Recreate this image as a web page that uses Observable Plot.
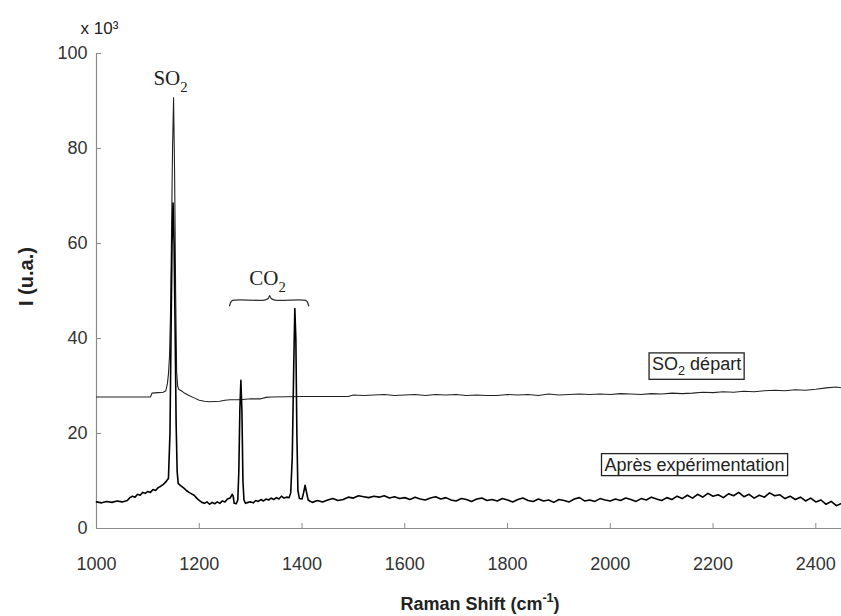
<!DOCTYPE html>
<html><head><meta charset="utf-8">
<script src="https://cdn.jsdelivr.net/npm/d3@7"></script>
<script src="https://cdn.jsdelivr.net/npm/@observablehq/plot@0.6"></script>
<style>body{margin:0;background:#fff} svg{display:block}</style>
</head><body><div id="chart"></div>
<script>
// ---- data ----
const xTicks = [1000, 1200, 1400, 1600, 1800, 2000, 2200, 2400];
const yTicks = [0, 20, 40, 60, 80, 100];

// "SO2 départ" spectrum
const shiftDepart = [1000,1105,1108,1120,1130,1135,1138,1140,1142,1144,
  1146,1148,1150,1152,1154,1156,1158,1160,1165,1170,
  1180,1190,1200,1210,1220,1240,1250,1260,1280,1300,
  1320,1330,1340,1400,1450,1490,
  1500,1520,1540,1560,1580,1600,1620,1640,1660,1680,
  1700,1720,1740,1760,1780,1800,1820,1840,1860,1880,
  1900,1920,1940,1960,1980,2000,2020,2040,2060,2080,
  2100,2120,2140,2160,2180,2200,2220,2240,2260,2280,
  2300,2320,2340,2360,2380,2400,2420,2440,2450];
const intensityDepart = [27.7,27.7,28.5,28.6,28.7,29.0,30.5,32.5,36,45,
  62,80,90.7,75,50,33,30,29.3,29.0,28.6,
  28.0,27.5,27.0,26.8,26.7,26.8,27.0,27.1,27.1,27.3,
  27.3,27.6,27.7,27.8,27.8,27.8,
  28.1,28.0,28.1,28.2,28.0,28.1,28.2,28.0,28.2,28.1,
  28.2,28.0,28.1,28.0,28.0,28.2,28.1,28.2,28.0,28.3,
  28.1,28.2,28.3,28.2,28.3,28.2,28.4,28.3,28.2,28.4,
  28.3,28.5,28.4,28.5,28.7,28.6,28.8,28.7,28.9,28.8,
  29.0,29.1,29.0,29.2,29.1,29.3,29.6,29.8,29.6];

// "Après expérimentation" spectrum
const shiftApres = [1000,1010,1020,1030,1040,1050,1060,
  1065,1070,1075,1080,1085,1090,1095,1100,1105,1110,1115,1120,1125,1130,1135,
  1138,1140,1143,1145,1147,1149,1151,1153,1155,1157,1159,
  1162,1165,1170,1175,1180,1185,1190,1195,1200,
  1205,1210,1215,1220,1225,1230,1235,1240,1245,1250,1255,1260,
  1264,1266,1268,1272,1275,1277,1279,1281,1283,1285,1287,1290,
  1295,1300,1305,1310,1315,1320,1325,1330,1335,1340,1345,1350,1355,1360,1365,1370,1375,
  1378,1381,1384,1386,1388,1390,1392,1395,1400,
  1403,1406,1409,1412,1415,
  1420,1430,1440,1450,1460,1470,1480,1490,1500,1510,
  1520,1530,1540,1550,1560,1570,1580,1590,1600,1610,
  1620,1630,1640,1650,1660,1670,1680,1690,1700,1710,
  1720,1730,1740,1750,1760,1770,1780,1790,1800,1810,
  1820,1830,1840,1850,1860,1870,1880,1890,1900,1910,
  1920,1930,1940,1950,1960,1970,1980,1990,2000,2010,
  2020,2030,2040,2050,2060,2070,2080,2090,2100,2110,
  2120,2130,2140,2150,2160,2170,2180,2190,2200,2210,
  2220,2230,2240,2250,2260,2270,2280,2290,2300,2310,
  2320,2330,2340,2350,2360,2370,2380,2390,2400,2410,
  2420,2430,2440,2450];
const intensityApres = [5.6,5.4,5.7,5.5,5.8,5.6,5.9,
  6.5,6.8,6.6,7.2,7.0,7.6,7.4,7.8,7.6,8.2,8.0,8.6,8.9,9.3,9.8,
  10.3,10.5,20,40,60,68.5,60,42,22,12,9.5,
  9.2,8.9,8.5,8.0,7.6,7.3,7.0,6.4,5.9,
  5.5,5.3,5.6,5.1,5.5,5.2,5.6,5.3,5.8,5.6,6.2,6.4,
  7.2,6.8,5.3,5.2,6.0,12,25,31.2,25,10,6,5.3,
  5.5,5.6,5.4,5.9,5.7,6.1,5.8,6.2,6.0,6.4,6.1,6.5,6.2,6.8,6.4,6.6,6.5,
  7.5,15,35,46.3,40,20,8,6.3,6.2,
  7.5,9.1,7.5,6.0,5.8,
  5.5,5.9,5.6,6.0,6.3,5.9,6.1,6.6,6.4,6.9,
  6.7,6.5,6.8,6.6,6.9,6.4,6.7,6.3,6.5,6.1,
  6.6,6.2,6.0,6.4,6.7,6.2,6.5,6.0,5.8,6.3,
  6.1,5.7,6.2,6.4,5.9,6.1,5.8,6.3,6.0,5.6,
  6.1,6.4,5.9,5.7,6.2,5.8,6.0,5.5,6.1,5.9,
  5.6,6.2,6.5,5.8,6.0,5.7,6.3,6.0,5.8,6.2,
  5.9,6.4,6.1,5.7,6.3,6.0,6.6,6.2,5.9,6.5,
  6.1,6.8,6.3,7.0,6.4,7.2,6.6,7.4,6.8,7.1,
  6.5,7.3,6.9,7.6,6.7,7.2,6.4,7.0,6.6,7.5,
  6.9,7.1,6.3,6.8,6.1,6.6,5.8,6.4,5.6,6.0,
  5.1,5.7,4.8,5.3];

// annotations
const peakLabels = ["SO₂", "CO₂"];
const peakLabelX = [1144, 1333];
const peakLabelY = [93.3, 51.2];
const braceStart = 1259, braceTip = 1337, braceEnd = 1413, braceLevel = 48.1;

const seriesLabels = ["SO₂ départ", "Après expérimentation"];
const seriesLabelX = [2168, 2164];
const seriesLabelY = [34.6, 13.4];

// ---- tables ----
const depart = shiftDepart.map((x, i) => ({x, y: intensityDepart[i]}));
const apres = shiftApres.map((x, i) => ({x, y: intensityApres[i]}));
const peaks = peakLabels.map((t, i) => ({t, x: peakLabelX[i], y: peakLabelY[i]}));
const series = seriesLabels.map((t, i) => ({t, x: seriesLabelX[i], y: seriesLabelY[i]}));
const brace = [
  {x: braceStart, y: braceLevel - 1.2},
  {x: braceStart + 4, y: braceLevel - 0.2},
  {x: braceStart + 12, y: braceLevel},
  {x: braceTip - 10, y: braceLevel},
  {x: braceTip - 3, y: braceLevel + 0.3},
  {x: braceTip, y: braceLevel + 0.9},
  {x: braceTip + 3, y: braceLevel + 0.3},
  {x: braceTip + 10, y: braceLevel},
  {x: braceEnd - 12, y: braceLevel},
  {x: braceEnd - 4, y: braceLevel - 0.2},
  {x: braceEnd, y: braceLevel - 1.2}
];

const axisGray = "#8a8a8a";
const textCol = "#222";

const chart = Plot.plot({
  width: 841, height: 616,
  marginLeft: 96, marginRight: 0, marginTop: 53, marginBottom: 88,
  style: {fontFamily: "'Liberation Sans', Arial, sans-serif", fontSize: "18px", color: textCol, background: "white"},
  x: {domain: [1000, 2450], label: null},
  y: {domain: [0, 100], label: null},
  marks: [
    Plot.ruleY([0], {stroke: axisGray, strokeWidth: 1.2}),
    Plot.ruleX([1000], {stroke: axisGray, strokeWidth: 1.2}),
    Plot.axisX({ticks: xTicks, tickFormat: d => String(d), tickSize: -5, tickPadding: 34, stroke: axisGray, fill: "#333", label: null, fontSize: 18}),
    Plot.axisY({ticks: yTicks, tickFormat: d => String(d), tickSize: -5, tickPadding: 14, stroke: axisGray, fill: "#333", label: null, fontSize: 18}),
    Plot.line(depart, {x: "x", y: "y", stroke: "#222", strokeWidth: 1.1}),
    Plot.line(apres, {x: "x", y: "y", stroke: "#000", strokeWidth: 1.6}),
    Plot.line(brace, {x: "x", y: "y", curve: "catmull-rom", stroke: "#333", strokeWidth: 1.3}),
    Plot.text(peaks, {x: "x", y: "y", text: "t", lineAnchor: "bottom", fontFamily: "'Liberation Serif', 'Times New Roman', serif", fontSize: 21, fill: textCol}),
    Plot.text(series, {x: "x", y: "y", text: "t", lineAnchor: "middle", fontSize: 18, fill: textCol}),
    Plot.text(["x 10³"], {frameAnchor: "top-left", dx: -16, dy: -20, textAnchor: "start", lineAnchor: "bottom", fontSize: 17, fill: textCol}),
    Plot.text(["Raman Shift (cm⁻¹)"], {frameAnchor: "bottom", dx: 11, dy: 81, lineAnchor: "bottom", fontWeight: "bold", fontSize: 18, fill: textCol}),
    Plot.text(["I (u.a.)"], {frameAnchor: "left", dx: -70, dy: 15, rotate: -90, fontWeight: "bold", fontSize: 20, fill: textCol})
  ]
});
document.getElementById("chart").append(chart);

// ---- sub/superscripts as tspans ----
const ns = "http://www.w3.org/2000/svg";
const scriptMap = {"₂": ["sub", "2"], "⁻": ["sup", "-"], "¹": ["sup", "1"]};
function richify(el) {
  const s = el.textContent;
  if (![...s].some(c => scriptMap[c])) return;
  const fs = parseFloat(getComputedStyle(el).fontSize) || 18;
  const runs = [];
  for (const c of s) {
    const m = scriptMap[c];
    const type = m ? m[0] : "normal";
    const ch = m ? m[1] : c;
    if (runs.length && runs[runs.length - 1].type === type) runs[runs.length - 1].text += ch;
    else runs.push({type, text: ch});
  }
  el.textContent = "";
  let offset = 0;
  for (const r of runs) {
    const ts = document.createElementNS(ns, "tspan");
    const target = r.type === "sub" ? fs * 0.3 : r.type === "sup" ? -fs * 0.4 : 0;
    const dy = target - offset;
    if (dy) ts.setAttribute("dy", dy);
    offset = target;
    if (r.type !== "normal") ts.setAttribute("font-size", fs * 0.7);
    ts.textContent = r.text;
    el.appendChild(ts);
  }
}
chart.querySelectorAll("text").forEach(t => {
  const spans = t.querySelectorAll("tspan");
  if (spans.length) spans.forEach(richify); else richify(t);
});

// ---- boxes around the series labels ----
const boxedTexts = new Set(seriesLabels.map(s => s.replace("₂", "2")));
chart.querySelectorAll("text").forEach(t => {
  if (!boxedTexts.has(t.textContent)) return;
  const bb = t.getBBox();
  const r = document.createElementNS(ns, "rect");
  r.setAttribute("x", bb.x - 3);
  r.setAttribute("y", bb.y - 1);
  r.setAttribute("width", bb.width + 6);
  r.setAttribute("height", bb.height + 2);
  r.setAttribute("fill", "white");
  r.setAttribute("stroke", "#222");
  r.setAttribute("stroke-width", 1.3);
  const tr = t.getAttribute("transform");
  if (tr) r.setAttribute("transform", tr);
  t.parentNode.insertBefore(r, t);
});
</script>
</body></html>
